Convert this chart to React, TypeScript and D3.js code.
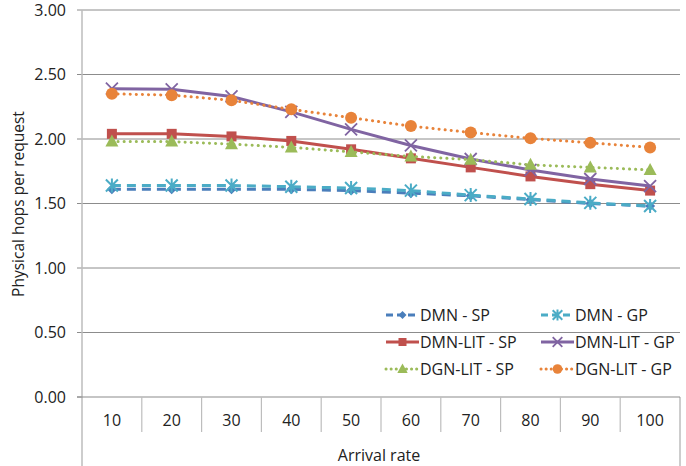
import React from "react";
import * as d3 from "d3";

const categories = ["10", "20", "30", "40", "50", "60", "70", "80", "90", "100"];
const yTicks = [0, 0.5, 1, 1.5, 2, 2.5, 3];

const dmnSP = [1.61, 1.61, 1.61, 1.61, 1.60, 1.58, 1.56, 1.53, 1.50, 1.48];
const dmnGP = [1.64, 1.64, 1.64, 1.63, 1.62, 1.60, 1.565, 1.535, 1.505, 1.48];
const dmnLitSP = [2.04, 2.04, 2.02, 1.985, 1.92, 1.85, 1.78, 1.71, 1.65, 1.60];
const dmnLitGP = [2.39, 2.385, 2.33, 2.21, 2.075, 1.95, 1.845, 1.76, 1.69, 1.635];
const dgnLitSP = [1.98, 1.98, 1.96, 1.935, 1.90, 1.865, 1.84, 1.80, 1.78, 1.76];
const dgnLitGP = [2.35, 2.34, 2.30, 2.23, 2.165, 2.10, 2.05, 2.005, 1.97, 1.935];

const seriesNames = ["DMN - SP", "DMN - GP", "DMN-LIT - SP", "DMN-LIT - GP", "DGN-LIT - SP", "DGN-LIT - GP"];
const seriesData = [dmnSP, dmnGP, dmnLitSP, dmnLitGP, dgnLitSP, dgnLitGP];

const styles = [
  { color: "#4A7EBB", dash: "9,6", marker: "diamond", cap: "butt" },
  { color: "#4BACC6", dash: "9,6", marker: "star", cap: "butt" },
  { color: "#C0504D", dash: "", marker: "square", cap: "butt" },
  { color: "#8064A2", dash: "", marker: "x", cap: "butt" },
  { color: "#9BBB59", dash: "0.1,6", marker: "triangle", cap: "round" },
  { color: "#E8833A", dash: "0.1,6", marker: "circle", cap: "round" },
];

const FONT = "'Open Sans', 'Noto Sans', sans-serif";
const FS = 16;

function Marker({ type, x, y, color, s = 1 }: { type: string; x: number; y: number; color: string; s?: number }) {
  switch (type) {
    case "diamond":
      return <path d={`M${x},${y - 5 * s}L${x + 5 * s},${y}L${x},${y + 5 * s}L${x - 5 * s},${y}Z`} fill={color} />;
    case "square":
      return <rect x={x - 5 * s} y={y - 5 * s} width={10 * s} height={10 * s} fill={color} />;
    case "triangle":
      return <path d={`M${x},${y - 7 * s}L${x + 6.5 * s},${y + 5 * s}L${x - 6.5 * s},${y + 5 * s}Z`} fill={color} />;
    case "circle":
      return <circle cx={x} cy={y} r={6 * s} fill={color} />;
    case "x":
      return (
        <path
          d={`M${x - 6 * s},${y - 6 * s}L${x + 6 * s},${y + 6 * s}M${x - 6 * s},${y + 6 * s}L${x + 6 * s},${y - 6 * s}`}
          stroke={color}
          strokeWidth={1.8}
        />
      );
    case "star":
      return (
        <path
          d={`M${x - 6 * s},${y - 6 * s}L${x + 6 * s},${y + 6 * s}M${x - 6 * s},${y + 6 * s}L${x + 6 * s},${y - 6 * s}M${x},${y - 7 * s}L${x},${y + 7 * s}`}
          stroke={color}
          strokeWidth={2}
        />
      );
    default:
      return null;
  }
}

export default function App() {
  const W = 686;
  const H = 466;
  const left = 82;
  const right = 680;
  const top = 10;
  const bottom = 397;

  const x = d3.scaleBand<string>().domain(categories).range([left, right]);
  const y = d3.scaleLinear().domain([0, 3]).range([bottom, top]);
  const line = d3
    .line<number>()
    .x((_, i) => (x(categories[i]) as number) + x.bandwidth() / 2)
    .y((d) => y(d));

  const legendRows = [315, 342, 369];
  const legendCols = [386, 541];

  return (
    <svg width={W} height={H} style={{ position: "absolute", left: 0, top: 0 }} fontFamily={FONT}>
      <rect width={W} height={H} fill="#fff" />
      {yTicks.map((t) => (
        <g key={t}>
          {t > 0 && <line x1={left} x2={right} y1={y(t)} y2={y(t)} stroke="#8c8c8c" strokeWidth={1} />}
          <line x1={left - 5} x2={left} y1={y(t)} y2={y(t)} stroke="#8c8c8c" />
          <text x={66} y={y(t)} dy="0.35em" textAnchor="end" fontSize={FS} fill="#222">
            {d3.format(".2f")(t)}
          </text>
        </g>
      ))}
      <line x1={left} x2={left} y1={top} y2={H} stroke="#bdbdbd" strokeWidth={1.5} />
      <line x1={right} x2={right} y1={bottom} y2={H} stroke="#bdbdbd" strokeWidth={1.5} />
      <line x1={left - 5} x2={right} y1={bottom} y2={bottom} stroke="#8c8c8c" strokeWidth={1.2} />
      {categories.slice(1).map((c) => (
        <line key={c} x1={x(c)} x2={x(c)} y1={bottom} y2={432} stroke="#bdbdbd" strokeWidth={1.2} />
      ))}
      {categories.map((c) => (
        <text key={c} x={(x(c) as number) + x.bandwidth() / 2} y={420} textAnchor="middle" dy="0.35em" fontSize={FS} fill="#222">
          {c}
        </text>
      ))}
      <text x={379} y={455} textAnchor="middle" dy="0.35em" fontSize={FS} fill="#222">
        Arrival rate
      </text>
      <text transform={`translate(19,204) rotate(-90)`} textAnchor="middle" dy="0.35em" fontSize={15.5} fill="#222">
        Physical hops per request
      </text>

      {seriesData.map((d, si) => {
        const s = styles[si];
        return (
          <g key={si}>
            <path
              d={line(d) || ""}
              fill="none"
              stroke={s.color}
              strokeWidth={3}
              strokeDasharray={s.dash || undefined}
              strokeLinecap={s.cap as any}
            />
            {d.map((v, i) => (
              <Marker key={i} type={s.marker} x={(x(categories[i]) as number) + x.bandwidth() / 2} y={y(v)} color={s.color} />
            ))}
          </g>
        );
      })}

      {seriesNames.map((n, i) => {
        const s = styles[i];
        const lx = legendCols[i % 2];
        const ly = legendRows[Math.floor(i / 2)];
        return (
          <g key={n}>
            <line
              x1={lx}
              x2={lx + 33}
              y1={ly}
              y2={ly}
              stroke={s.color}
              strokeWidth={3}
              strokeDasharray={s.dash ? (s.cap === "round" ? "0.1,5" : "7,4") : undefined}
              strokeLinecap={s.cap as any}
            />
            <Marker type={s.marker} x={lx + 16.5} y={ly} color={s.color} s={0.8} />
            <text x={lx + 34} y={ly} dy="0.35em" fontSize={FS} fill="#222">
              {n}
            </text>
          </g>
        );
      })}
    </svg>
  );
}
